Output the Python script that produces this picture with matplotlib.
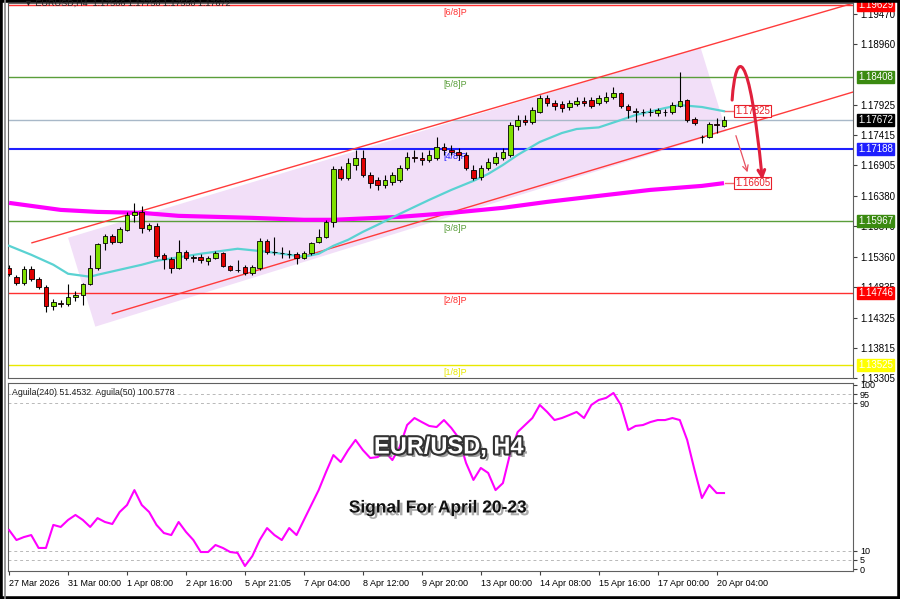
import matplotlib
matplotlib.use("Agg")
import numpy as np
import matplotlib.pyplot as plt
import matplotlib.patheffects as pe
from matplotlib.patches import Polygon, Rectangle, FancyArrowPatch
from matplotlib.path import Path
from matplotlib.lines import Line2D

plt.rcParams['font.family'] = ['Liberation Sans', 'DejaVu Sans']

# EURUSD H4 candles, oldest first
opens = [1.15170, 1.15017, 1.14916, 1.15153, 1.14984, 1.14848, 1.14526, 1.14577, 1.14560, 1.14679,
         1.14713, 1.14899, 1.15170, 1.15593, 1.15712, 1.15610, 1.15813, 1.16067, 1.16118, 1.15830,
         1.15881, 1.15390, 1.15322, 1.15170, 1.15441, 1.15356, 1.15356, 1.15288, 1.15339, 1.15424,
         1.15204, 1.15136, 1.15187, 1.15085, 1.15170, 1.15627, 1.15441, 1.15424, 1.15407, 1.15407,
         1.15339, 1.15424, 1.15610, 1.15695, 1.15949, 1.16846, 1.16693, 1.16913, 1.17032, 1.16744,
         1.16660, 1.16575, 1.16626, 1.16660, 1.16863, 1.17049, 1.17032, 1.16998, 1.17032, 1.17218,
         1.17168, 1.17134, 1.17083, 1.16829, 1.16710, 1.16863, 1.16947, 1.17032, 1.17083, 1.17574,
         1.17675, 1.17642, 1.17811, 1.18048, 1.17963, 1.17946, 1.17896, 1.17946, 1.17997, 1.18014,
         1.17963, 1.17997, 1.18065, 1.18132, 1.17913, 1.17828, 1.17811, 1.17819, 1.17794, 1.17819,
         1.17811, 1.17913, 1.18014, 1.17692, 1.17388, 1.17388, 1.17608, 1.17574]
closes = [1.15068, 1.14916, 1.15153, 1.14984, 1.14848, 1.14526, 1.14594, 1.14560, 1.14679, 1.14713,
          1.14899, 1.15170, 1.15576, 1.15712, 1.15610, 1.15830, 1.16067, 1.16118, 1.15847, 1.15898,
          1.15373, 1.15322, 1.15170, 1.15441, 1.15339, 1.15339, 1.15305, 1.15339, 1.15424, 1.15204,
          1.15136, 1.15128, 1.15085, 1.15187, 1.15627, 1.15441, 1.15433, 1.15416, 1.15399, 1.15339,
          1.15424, 1.15593, 1.15695, 1.15949, 1.16846, 1.16693, 1.16947, 1.17032, 1.16744, 1.16609,
          1.16575, 1.16660, 1.16744, 1.16863, 1.17049, 1.17032, 1.16998, 1.17083, 1.17218, 1.17168,
          1.17134, 1.17083, 1.16863, 1.16693, 1.16863, 1.16964, 1.17049, 1.17134, 1.17591, 1.17675,
          1.17642, 1.17845, 1.18048, 1.17963, 1.17913, 1.17879, 1.17963, 1.17997, 1.17963, 1.17913,
          1.18048, 1.18065, 1.18132, 1.17913, 1.17845, 1.17811, 1.17819, 1.17811, 1.17845, 1.17811,
          1.17929, 1.17997, 1.17675, 1.17625, 1.17380, 1.17608, 1.17599, 1.17672]
highs = [1.15221, 1.15051, 1.15204, 1.15204, 1.15017, 1.14882, 1.14645, 1.14628, 1.14899, 1.14780,
         1.14916, 1.15390, 1.15593, 1.15745, 1.15745, 1.15864, 1.16118, 1.16270, 1.16219, 1.15932,
         1.15932, 1.15424, 1.15356, 1.15644, 1.15475, 1.15390, 1.15407, 1.15373, 1.15458, 1.15441,
         1.15221, 1.15305, 1.15221, 1.15221, 1.15678, 1.15661, 1.15695, 1.15525, 1.15475, 1.15441,
         1.15458, 1.15610, 1.15830, 1.15983, 1.16897, 1.16897, 1.17032, 1.17168, 1.17168, 1.16795,
         1.16710, 1.16744, 1.16795, 1.16913, 1.17134, 1.17168, 1.17134, 1.17168, 1.17388, 1.17286,
         1.17252, 1.17201, 1.17134, 1.16913, 1.16913, 1.17032, 1.17134, 1.17201, 1.17642, 1.17760,
         1.17760, 1.17896, 1.18099, 1.18099, 1.18014, 1.17997, 1.18014, 1.18065, 1.18065, 1.18065,
         1.18099, 1.18149, 1.18234, 1.18149, 1.17946, 1.17879, 1.17862, 1.17879, 1.17879, 1.17862,
         1.17980, 1.18488, 1.18031, 1.17726, 1.17422, 1.17642, 1.17709, 1.17743]
lows = [1.15034, 1.14882, 1.14882, 1.14950, 1.14814, 1.14425, 1.14459, 1.14509, 1.14526, 1.14611,
        1.14543, 1.14882, 1.15136, 1.15475, 1.15576, 1.15593, 1.15796, 1.15949, 1.15762, 1.15796,
        1.15339, 1.15153, 1.15085, 1.15153, 1.15305, 1.15271, 1.15254, 1.15221, 1.15322, 1.15187,
        1.15119, 1.15102, 1.15051, 1.15051, 1.15136, 1.15407, 1.15390, 1.15339, 1.15339, 1.15237,
        1.15322, 1.15390, 1.15593, 1.15678, 1.15864, 1.16660, 1.16660, 1.16829, 1.16710, 1.16524,
        1.16490, 1.16524, 1.16575, 1.16626, 1.16829, 1.16964, 1.16913, 1.16964, 1.16998, 1.17083,
        1.17083, 1.16998, 1.16829, 1.16660, 1.16660, 1.16829, 1.16913, 1.16998, 1.17049, 1.17506,
        1.17591, 1.17608, 1.17794, 1.17913, 1.17845, 1.17811, 1.17845, 1.17913, 1.17913, 1.17879,
        1.17929, 1.17963, 1.18031, 1.17879, 1.17709, 1.17642, 1.17743, 1.17743, 1.17743, 1.17743,
        1.17777, 1.17896, 1.17642, 1.17591, 1.17286, 1.17371, 1.17455, 1.17557]

# moving averages (bar index, value)
ma_fast_bars = [0, 3, 6, 8, 11, 12, 15, 18, 20, 26, 31, 35, 40, 42, 44, 46, 48, 50, 53, 57,
                60, 63, 65, 67, 69, 72, 75, 77, 80, 83, 85, 89, 91, 94, 97]
ma_fast = [1.15542, 1.15390, 1.15221, 1.15068, 1.15017, 1.15051, 1.15136, 1.15221, 1.15288, 1.15407,
           1.15492, 1.15441, 1.15356, 1.15407, 1.15542, 1.15644, 1.15779, 1.15898, 1.16084, 1.16321,
           1.16490, 1.16643, 1.16761, 1.16913, 1.17083, 1.17303, 1.17455, 1.17523, 1.17550, 1.17675,
           1.17760, 1.17879, 1.17929, 1.17896, 1.17825]
ma_slow_bars = [0, 7, 12, 18, 23, 33, 40, 44, 53, 60, 67, 73, 80, 87, 94, 97]
ma_slow = [1.16270, 1.16151, 1.16117, 1.16101, 1.16050, 1.16016, 1.15983, 1.15983, 1.16033, 1.16101,
           1.16186, 1.16287, 1.16389, 1.16490, 1.16558, 1.16605]

# Murrey math levels
murrey_levels = [1.19629, 1.18408, 1.17188, 1.15967, 1.14746, 1.13525]
murrey_names = ["[6/8]P", "[5/8]P", "[4/8]P", "[3/8]P", "[2/8]P", "[1/8]P"]
murrey_colors = ["#ff3030", "#5a9e3a", "#1f1fff", "#5a9e3a", "#ff3030", "#e8e800"]
murrey_box = ["#ff0000", "#3a8a10", "#1f1fff", "#3a8a10", "#ff0000", "#ffff00"]
last_price = 1.17672
target_up = 1.17825
target_down = 1.16605

price_ticks = [1.19470, 1.18960, 1.17925, 1.17415, 1.16905, 1.16380,
               1.15870, 1.15360, 1.14835, 1.14325, 1.13815, 1.13305]

# Aguila oscillator, one value per candle
aguila = [21.2, 15.8, 17.4, 18.5, 11.5, 11.5, 24.0, 22.9, 26.7, 29.4,
          26.7, 22.9, 27.7, 25.6, 24.5, 31.0, 34.8, 42.9, 34.8, 31.0,
          24.0, 19.6, 18.5, 25.6, 20.2, 15.8, 9.3, 9.3, 13.1, 11.5,
          9.3, 8.8, 1.7, 7.1, 15.8, 22.3, 18.5, 15.8, 22.3, 18.5,
          26.7, 34.8, 42.9, 52.7, 61.9, 58.1, 64.6, 70.1, 64.6, 60.3,
          60.8, 63.6, 59.2, 66.3, 78.2, 82.0, 79.8, 77.7, 77.1, 80.9,
          76.6, 71.2, 57.6, 48.4, 54.9, 52.2, 42.9, 46.7, 63.0, 74.4,
          78.2, 82.0, 89.1, 85.3, 80.9, 82.0, 83.6, 85.3, 82.0, 89.1,
          91.8, 92.9, 95.6, 89.1, 75.5, 77.7, 78.2, 79.8, 80.9, 80.9,
          82.0, 80.9, 70.1, 53.8, 38.6, 45.7, 41.3, 41.3]
osc_levels = [95, 90, 10, 5]
osc_ticks = [0, 5, 10, 90, 95, 100]

date_labels = ["27 Mar 2026", "31 Mar 00:00", "1 Apr 08:00", "2 Apr 16:00", "5 Apr 21:05",
               "7 Apr 04:00", "8 Apr 12:00", "9 Apr 20:00", "13 Apr 00:00", "14 Apr 08:00",
               "15 Apr 16:00", "17 Apr 00:00", "20 Apr 04:00"]

o = np.array(opens)
c = np.array(closes)
h = np.array(highs)
l = np.array(lows)
x = np.arange(len(o))

W, H = 900, 599
fig = plt.figure(figsize=(9, 5.99), dpi=100)
fig.patch.set_facecolor("white")

ax = fig.add_axes([8 / W, 1 - 378 / H, 845 / W, 375 / H])
ax2 = fig.add_axes([8 / W, 1 - 571 / H, 845 / W, 188 / H], sharex=ax)

# channel shading
shade = Polygon([(8.0, 1.15678), (93.8, 1.18911), (97.3, 1.17489), (11.7, 1.14171)],
                closed=True, facecolor="#f2dff8", edgecolor="none", zorder=0.5)
ax.add_patch(shade)

# horizontal levels
for lev, name, col, bcol in zip(murrey_levels, murrey_names, murrey_colors, murrey_box):
    lw = 1.5 if name == "[4/8]P" else 1.0
    ax.axhline(lev, color=col, lw=lw, zorder=1)
    ax.annotate(name, (60.5, lev), xytext=(0, -2.5), textcoords="offset points",
                ha="center", va="top", fontsize=6.5, color=col, zorder=2)
    ax.annotate(f"{lev:.5f}", xy=(1, lev), xycoords=("axes fraction", "data"),
                xytext=(3.5, 0), textcoords="offset points", ha="left", va="center",
                fontsize=7, color="white", annotation_clip=False, zorder=10,
                bbox=dict(boxstyle="square,pad=0.12", fc=bcol, ec=bcol))
ax.axhline(last_price, color="#a8b8c8", lw=1, zorder=1)
ax.annotate(f"{last_price:.5f}", xy=(1, last_price), xycoords=("axes fraction", "data"),
            xytext=(3.5, 0), textcoords="offset points", ha="left", va="center",
            fontsize=7, color="white", annotation_clip=False, zorder=10,
            bbox=dict(boxstyle="square,pad=0.12", fc="black", ec="black"))

# channel lines
ax.plot([3.1, 114.5], [1.15593, 1.19656], color="#ff3b3b", lw=1, zorder=2)
ax.plot([14.0, 114.5], [1.14391, 1.18150], color="#ff3b3b", lw=1, zorder=2)

# moving averages
ax.plot(ma_slow_bars, ma_slow, color="#ff00ff", lw=3, zorder=3, solid_capstyle="butt")
ax.plot(ma_fast_bars, ma_fast, color="#5ad2d2", lw=1.6, zorder=3)

# candles
up = c >= o
body_low = np.minimum(o, c)
body_h = np.maximum(np.abs(c - o), 0.00002)
ax.vlines(x, l, h, color="black", lw=0.8, zorder=4)
ax.bar(x[up], body_h[up], bottom=body_low[up], width=0.62, color="#7fe000",
       edgecolor="black", linewidth=0.6, zorder=5)
ax.bar(x[~up], body_h[~up], bottom=body_low[~up], width=0.62, color="#e00000",
       edgecolor="black", linewidth=0.6, zorder=5)

# target labels
for val in [target_up, target_down]:
    ax.plot([97.2, 98.4], [val, val], color="#f07070", lw=1, zorder=6)
    ax.text(98.5, val, f"{val:.5f}", fontsize=7, color="#e8202a", ha="left", va="center",
            zorder=7, bbox=dict(boxstyle="square,pad=0.1", fc="white", ec="#e8202a", lw=0.8))

# arrows
verts = [(98.1, 1.18014), (98.6, 1.18900), (100.4, 1.18950), (102.2, 1.16660)]
curve = Path(verts, [Path.MOVETO, Path.CURVE4, Path.CURVE4, Path.CURVE4])
ax.add_patch(FancyArrowPatch(path=curve, arrowstyle="->", mutation_scale=12,
                             lw=2.2, color="#e0203c", zorder=8))
ax.add_patch(FancyArrowPatch((98.5, 1.17455), (100.3, 1.16744), arrowstyle="->",
                             mutation_scale=10, lw=0.9, color="#e85060", zorder=8))

ax.set_xlim(-0.15, 114.5)
ax.set_ylim(1.1330, 1.1966)
ax.yaxis.tick_right()
ax.set_yticks(price_ticks)
ax.set_yticklabels([f"{t:.5f}" for t in price_ticks])
ax.tick_params(axis="y", labelsize=7, length=3, pad=2, color="#404040")
ax.tick_params(axis="x", bottom=False, labelbottom=False)
for s in ax.spines.values():
    s.set_color("#606060")
    s.set_linewidth(0.8)

# oscillator panel
for lev in osc_levels:
    ax2.axhline(lev, color="#b8b8b8", lw=0.7, ls=(0, (3, 3)), zorder=1)
ax2.plot(x, aguila, color="#ff00ff", lw=1.5, zorder=3)
ax2.set_ylim(-1, 101)
ax2.yaxis.tick_right()
ax2.set_yticks(osc_ticks)
ax2.set_yticklabels([str(t) for t in osc_ticks])
ax2.tick_params(axis="y", labelsize=6.5, length=3, pad=2, color="#404040")
ax2.set_xticks(np.arange(0, 97, 8))
ax2.set_xticklabels(date_labels, ha="left")
ax2.tick_params(axis="x", labelsize=6.5, length=3, pad=3, color="#404040")
for s in ax2.spines.values():
    s.set_color("#606060")
    s.set_linewidth(0.8)
ax2.text(0.005, 0.975, "Aguila(240) 51.4532  Aguila(50) 100.5778", transform=ax2.transAxes,
         fontsize=6.3, ha="left", va="top", color="#202020")

# overlay titles
fig.text(449 / W, 1 - 447 / H, "EUR/USD, H4", fontsize=17, fontweight="bold", color="white",
         ha="center", va="center", zorder=20,
         path_effects=[pe.SimplePatchShadow(offset=(2.5, -2.5), shadow_rgbFace="#777777", alpha=0.7),
                       pe.Stroke(linewidth=3, foreground="#333333"), pe.Normal()])
fig.text(438 / W, 1 - 508 / H, "Signal For April 20-23", fontsize=12.5, fontweight="bold",
         color="#111111", ha="center", va="center", zorder=20,
         path_effects=[pe.SimplePatchShadow(offset=(2, -2), shadow_rgbFace="#888888", alpha=0.7),
                       pe.Normal()])

# header and frame
fig.text(24 / W, 1 - 3 / H, "\u25bc EURUSD,H4  1.17566 1.17750 1.17550 1.17672", fontsize=6.5,
         ha="left", va="center", color="#202020")
fig.add_artist(Line2D([5 / W, 5 / W], [0, 1], color="#888888", lw=1.2))
fig.add_artist(Rectangle((0, 0), 1, 1, transform=fig.transFigure, fill=False,
                         edgecolor="black", lw=4))

fig.savefig("out.png", dpi=100)
